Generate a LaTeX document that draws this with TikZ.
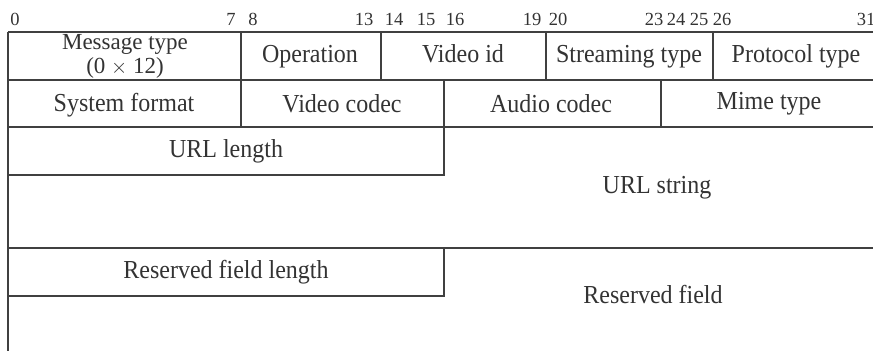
\documentclass[tikz,border=0pt]{standalone}
\usepackage{fontspec}
\setmainfont{Liberation Serif}
\newcommand{\tallish}[1]{\scalebox{1}[1.08]{#1}}
\begin{document}
\begin{tikzpicture}[x=1pt,y=-1pt,
  rule/.style={draw=black!75, line width=1.3pt},
  lbl/.style={inner sep=0pt, anchor=base, text=black!80, font=\fontsize{24}{20}\selectfont},
  bitno/.style={inner sep=0pt, anchor=base, text=black!80, font=\fontsize{18.5}{18}\selectfont}]
\useasboundingbox (0,0) rectangle (873,351);
% bit numbers
\foreach \n/\x in {0/15,7/231,8/253,13/364,14/394,15/426,16/455,19/532,20/558,23/654,24/676,25/699,26/722,31/866}
  \node[bitno] (b\n) at (\x,25) {\n};
% frame lines
\coordinate (tl) at (8,32);
\coordinate (tr) at (873,32);
\coordinate (bl) at (8,351);
\draw[rule] (tl) -- (tr);
\draw[rule] (tl) -- (bl);
\draw[rule] (8,80) -- (873,80);
\draw[rule] (8,127) -- (873,127);
\draw[rule] (8,175) -- (444,175) -- (444,127);
\draw[rule] (8,248) -- (873,248);
\draw[rule] (8,296) -- (444,296) -- (444,248);
\foreach \x in {241,381,546,713} \draw[rule] (\x,32) -- (\x,80);
\foreach \x in {241,444,661} \draw[rule] (\x,80) -- (\x,127);
% labels
\node[lbl, font=\fontsize{23}{20}\selectfont] (msga) at (125,49.5) {Message type};
\node[lbl, font=\fontsize{23}{20}\selectfont] (msgb) at (125,73) {(0 {\fontsize{21}{18}\selectfont$\times$} 12)};
\node[lbl] (op) at (310,62) {\tallish{Operation}};
\node[lbl] (vid) at (463,62) {\tallish{Video id}};
\node[lbl] (str) at (629,62) {\tallish{Streaming type}};
\node[lbl] (prot) at (796,62) {\tallish{Protocol type}};
\node[lbl] (sys) at (124,111) {\tallish{System format}};
\node[lbl] (vcod) at (342,112) {\tallish{Video codec}};
\node[lbl] (acod) at (551,112) {\tallish{Audio codec}};
\node[lbl] (mime) at (769,109) {\tallish{Mime type}};
\node[lbl] (urll) at (226,157) {\tallish{URL length}};
\node[lbl] (urls) at (657,193) {\tallish{URL string}};
\node[lbl] (resl) at (226,278) {\tallish{Reserved field length}};
\node[lbl] (res) at (653,303) {\tallish{Reserved field}};
\end{tikzpicture}
\end{document}
